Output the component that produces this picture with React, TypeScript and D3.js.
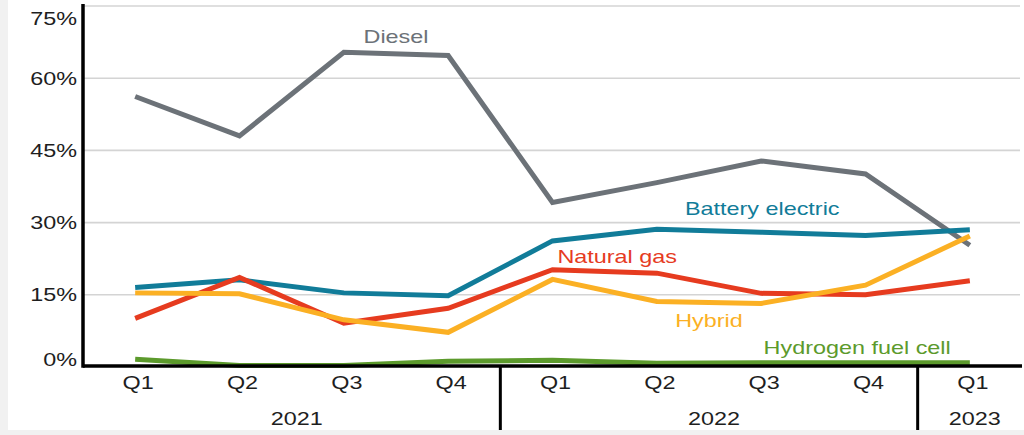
import * as d3 from "d3";
import { useEffect, useRef } from "react";

const WIDTH = 1024;
const HEIGHT = 435;

const quarters = ["Q1", "Q2", "Q3", "Q4", "Q1", "Q2", "Q3", "Q4", "Q1"];
const years = ["2021", "2022", "2023"];
const quartersPerYear = [4, 4, 1];
const yTicks = [0, 15, 30, 45, 60, 75];

const diesel = [56.2, 48.0, 65.4, 64.7, 34.2, 38.3, 42.8, 40.1, 25.3];
const batteryElectric = [16.5, 18.1, 15.4, 14.8, 26.2, 28.6, 28.0, 27.3, 28.5];
const naturalGas = [10.1, 18.6, 9.1, 12.2, 20.2, 19.5, 15.3, 15.0, 17.9];
const hybrid = [15.4, 15.2, 9.8, 7.2, 18.2, 13.6, 13.2, 17.0, 27.2];
const hydrogenFuelCell = [1.6, 0.3, 0.3, 1.2, 1.4, 0.8, 0.9, 0.9, 0.9];

type Series = { name: string; values: number[]; color: string; labelAt: number; labelValue: number };

// drawing order: later ones sit on top
const series: Series[] = [
    { name: "Diesel", values: diesel, color: "#6c7278", labelAt: 2.5, labelValue: 67.3 },
    { name: "Battery electric", values: batteryElectric, color: "#117c99", labelAt: 6.01, labelValue: 31.5 },
    { name: "Natural gas", values: naturalGas, color: "#e63b1f", labelAt: 4.62, labelValue: 21.7 },
    { name: "Hybrid", values: hybrid, color: "#fbb024", labelAt: 5.5, labelValue: 8.3 },
    { name: "Hydrogen fuel cell", values: hydrogenFuelCell, color: "#5c9a2c", labelAt: 6.92, labelValue: 2.6 },
];

const FONT = "'Liberation Sans', Arial, sans-serif";
const STRETCH = 1.3;

export default function App() {
    const svgRef = useRef<SVGSVGElement | null>(null);

    useEffect(() => {
        if (!svgRef.current) return;
        const svg = d3.select(svgRef.current);
        svg.selectAll("*").remove();

        const left = 83;
        const right = 1020;
        const axisY = 366;

        svg.append("rect").attr("width", WIDTH).attr("height", HEIGHT).attr("fill", "#f1f1f1");
        svg.append("rect").attr("x", 8).attr("width", WIDTH - 8).attr("height", 430).attr("fill", "#ffffff");

        const ids = quarters.map((_, i) => i);
        const x = d3.scaleBand<number>().domain(ids).range([left, right + 2]).padding(0);
        const xAt = (i: number) => left + x.bandwidth() * (i + 0.5);
        const y = d3.scaleLinear().domain([0, 75]).range([367, 6]);

        const label = (
            g: d3.Selection<SVGGElement, unknown, null, undefined>,
            tx: number,
            ty: number,
            text: string,
            anchor: string,
            color: string
        ) =>
            g
                .append("text")
                .attr("transform", `translate(${tx},${ty}) scale(${STRETCH},1)`)
                .attr("text-anchor", anchor)
                .attr("font-family", FONT)
                .attr("font-size", 18)
                .attr("fill", color)
                .text(text);

        const root = svg.append("g");

        // gridlines
        root.append("g")
            .selectAll("line")
            .data(yTicks.filter((t) => t > 0))
            .enter()
            .append("line")
            .attr("x1", left)
            .attr("x2", right)
            .attr("y1", (d) => y(d))
            .attr("y2", (d) => y(d))
            .attr("stroke", "#d4d4d4")
            .attr("stroke-width", 1.6);

        // y labels
        const yl = root.append("g");
        yTicks.forEach((t) => {
            const ty = Math.min(366, Math.max(24.5, y(t) + 6.5));
            label(yl, 77, ty, `${t}%`, "end", "#1e1e1e");
        });

        // lines
        const line = d3
            .line<number>()
            .x((_, i) => xAt(i))
            .y((d) => y(d));

        series.forEach((s) => {
            root.append("path")
                .datum(s.values)
                .attr("fill", "none")
                .attr("stroke", s.color)
                .attr("stroke-width", 5)
                .attr("d", line);
        });

        // series labels
        const sl = root.append("g");
        series.forEach((s) => {
            label(sl, xAt(s.labelAt), y(s.labelValue), s.name, "middle", s.color);
        });

        // axes
        root.append("line")
            .attr("x1", left)
            .attr("x2", right + 2)
            .attr("y1", axisY)
            .attr("y2", axisY)
            .attr("stroke", "#000")
            .attr("stroke-width", 3.5);
        root.append("line")
            .attr("x1", left)
            .attr("x2", left)
            .attr("y1", 4)
            .attr("y2", axisY + 1.75)
            .attr("stroke", "#000")
            .attr("stroke-width", 3.5);

        // quarter labels
        const ql = root.append("g");
        quarters.forEach((q, i) => label(ql, xAt(i) + 3, 389, q, "middle", "#1e1e1e"));

        // year groups and dividers
        const yg = root.append("g");
        let start = 0;
        years.forEach((yr, k) => {
            const n = quartersPerYear[k];
            const x0 = x(start) ?? left;
            const x1 = start + n < quarters.length ? (x(start + n) ?? right) : right + 2;
            label(yg, (x0 + x1) / 2 + 5, 425, yr, "middle", "#1e1e1e");
            if (start > 0) {
                yg.append("line")
                    .attr("x1", x0)
                    .attr("x2", x0)
                    .attr("y1", axisY)
                    .attr("y2", 430)
                    .attr("stroke", "#000")
                    .attr("stroke-width", 3);
            }
            start += n;
        });

        return () => {
            svg.selectAll("*").remove();
        };
    }, []);

    return (
        <div style={{ position: "fixed", left: 0, top: 0, width: WIDTH, height: HEIGHT }}>
            <svg ref={svgRef} width={WIDTH} height={HEIGHT} style={{ display: "block" }} />
        </div>
    );
}
